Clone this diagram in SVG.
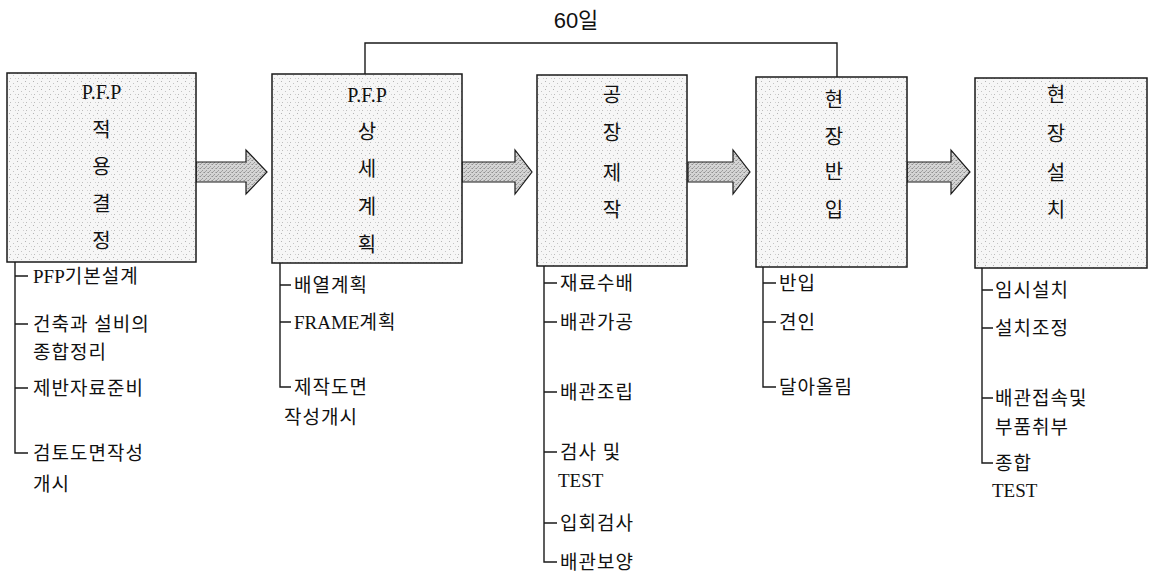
<svg xmlns="http://www.w3.org/2000/svg" width="1149" height="574" viewBox="0 0 1149 574">
<defs>
<pattern id="boxfill" width="8" height="8" patternUnits="userSpaceOnUse">
<rect width="8" height="8" fill="#f6f6f6"/>
<rect x="1" y="1" width="1" height="1" fill="#b4b4b4"/>
<rect x="5" y="3" width="1" height="1" fill="#c4c4c4"/>
<rect x="2" y="6" width="1" height="1" fill="#bcbcbc"/>
<rect x="7" y="6" width="1" height="1" fill="#d0d0d0"/>
</pattern>
<pattern id="arrowfill" width="4" height="4" patternUnits="userSpaceOnUse">
<rect width="4" height="4" fill="#d4d4d4"/>
<rect x="0" y="0" width="1" height="1" fill="#909090"/>
<rect x="2" y="2" width="1" height="1" fill="#9a9a9a"/>
<rect x="3" y="0" width="1" height="1" fill="#b0b0b0"/>
<rect x="1" y="3" width="1" height="1" fill="#a6a6a6"/>
</pattern>
<style>
.box{fill:url(#boxfill);stroke:#1a1a1a;stroke-width:1.5}
.arrow{fill:url(#arrowfill);stroke:#1a1a1a;stroke-width:1.2;stroke-linejoin:miter}
.ln{fill:none;stroke:#1a1a1a;stroke-width:1.4}
.bt{font-family:"Liberation Serif","Noto Sans CJK KR",serif;font-size:20px;fill:#111;text-anchor:middle}
.st{font-family:"Liberation Serif","Noto Sans CJK KR",serif;font-size:19px;fill:#111;letter-spacing:1px}
.lbl{font-family:"Liberation Sans","Noto Sans CJK KR",sans-serif;font-size:22px;fill:#111;text-anchor:middle}
</style>
</defs>

<g id="connectors">
<polygon class="arrow" points="196,162 246,162 246,150 267,172 246,194 246,182 196,182"/>
<polygon class="arrow" points="462,162 515,162 515,150 532,172 515,194 515,182 462,182"/>
<polygon class="arrow" points="688,162 733,162 733,150 750,172 733,194 733,182 688,182"/>
<polygon class="arrow" points="907,162 951,162 951,150 970,172 951,194 951,182 907,182"/>
<polyline class="ln" points="365,74 365,43 837,43 837,77"/>
<text class="lbl" x="576" y="28">60일</text>
</g>

<g id="node1">
<rect class="box" x="7" y="73" width="189" height="189"/>
<text class="bt" x="101.5" y="99">P.F.P</text>
<text class="bt" x="101.5" y="137">적</text>
<text class="bt" x="101.5" y="174">용</text>
<text class="bt" x="101.5" y="211">결</text>
<text class="bt" x="101.5" y="248">정</text>
<path class="ln" d="M15,262 V453 H28 M15,276 H28 M15,324 H28 M15,388 H28"/>
<text class="st" x="33" y="283"><tspan style="letter-spacing:0">PFP</tspan>기본설계</text>
<text class="st" x="33" y="331">건축과 설비의</text>
<text class="st" x="33" y="359">종합정리</text>
<text class="st" x="33" y="395">제반자료준비</text>
<text class="st" x="33" y="460">검토도면작성</text>
<text class="st" x="33" y="491">개시</text>
</g>

<g id="node2">
<rect class="box" x="272" y="74" width="190" height="189"/>
<text class="bt" x="367" y="102">P.F.P</text>
<text class="bt" x="367" y="139">상</text>
<text class="bt" x="367" y="176">세</text>
<text class="bt" x="367" y="214">계</text>
<text class="bt" x="367" y="252">획</text>
<path class="ln" d="M280,263 V387 H291 M280,285 H291 M280,322 H291"/>
<text class="st" x="294" y="292">배열계획</text>
<text class="st" x="294" y="329"><tspan style="letter-spacing:0">FRAME</tspan>계획</text>
<text class="st" x="294" y="394">제작도면</text>
<text class="st" x="284" y="424">작성개시</text>
</g>

<g id="node3">
<rect class="box" x="537" y="75" width="150" height="191"/>
<text class="bt" x="612" y="102">공</text>
<text class="bt" x="612" y="140">장</text>
<text class="bt" x="612" y="180">제</text>
<text class="bt" x="612" y="217">작</text>
<path class="ln" d="M544,266 V562 H557 M544,283 H557 M544,322 H557 M544,392 H557 M544,452 H557 M544,523 H557"/>
<text class="st" x="560" y="290">재료수배</text>
<text class="st" x="560" y="329">배관가공</text>
<text class="st" x="560" y="399">배관조립</text>
<text class="st" x="560" y="459">검사  및</text>
<text class="st" x="558" y="487" style="letter-spacing:0">TEST</text>
<text class="st" x="560" y="530">입회검사</text>
<text class="st" x="560" y="569">배관보양</text>
</g>

<g id="node4">
<rect class="box" x="756" y="77" width="151" height="190"/>
<text class="bt" x="834" y="107">현</text>
<text class="bt" x="834" y="144">장</text>
<text class="bt" x="834" y="179">반</text>
<text class="bt" x="834" y="217">입</text>
<path class="ln" d="M763,267 V387 H776 M763,283 H776 M763,322 H776"/>
<text class="st" x="779" y="290">반입</text>
<text class="st" x="779" y="329">견인</text>
<text class="st" x="779" y="394">달아올림</text>
</g>

<g id="node5">
<rect class="box" x="975" y="78" width="172" height="190"/>
<text class="bt" x="1056" y="102">현</text>
<text class="bt" x="1056" y="141">장</text>
<text class="bt" x="1056" y="180">설</text>
<text class="bt" x="1056" y="217">치</text>
<path class="ln" d="M982,268 V463 H993 M982,290 H993 M982,328 H993 M982,398 H993"/>
<text class="st" x="995" y="297">임시설치</text>
<text class="st" x="995" y="335">설치조정</text>
<text class="st" x="995" y="405">배관접속및</text>
<text class="st" x="995" y="434">부품취부</text>
<text class="st" x="995" y="470">종합</text>
<text class="st" x="992" y="497" style="letter-spacing:0">TEST</text>
</g>
</svg>
